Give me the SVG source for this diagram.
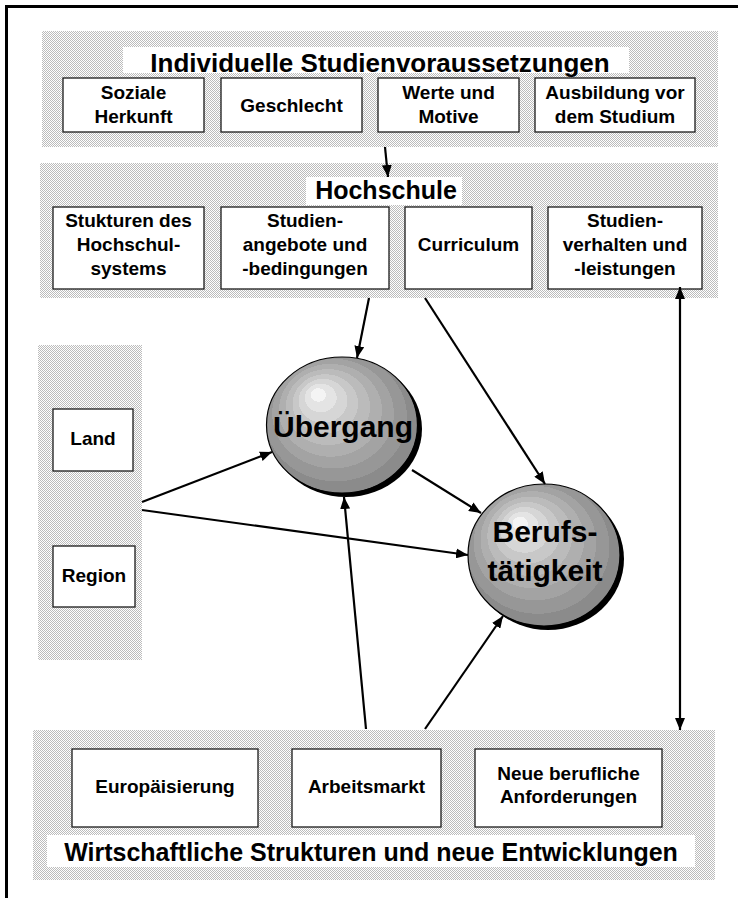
<svg xmlns="http://www.w3.org/2000/svg" width="738" height="898" viewBox="0 0 738 898">
  <defs>
    <!-- fine dither used for the shaded group panels -->
    <pattern id="dither" width="2" height="2" patternUnits="userSpaceOnUse">
      <rect width="2" height="2" fill="#ffffff"/>
      <rect width="1" height="1" fill="#bcbcbc"/>
      <rect x="1" y="1" width="1" height="1" fill="#bcbcbc"/>
    </pattern>
    <!-- banded grey sphere shading -->
    <radialGradient id="sphere" cx="0.5" cy="0.5" r="0.62" fx="0.33" fy="0.26">
      <stop offset="0" stop-color="#f4f4f4"/>
      <stop offset="0.08" stop-color="#f4f4f4"/>
      <stop offset="0.08" stop-color="#e4e4e4"/>
      <stop offset="0.17" stop-color="#e4e4e4"/>
      <stop offset="0.17" stop-color="#d6d6d6"/>
      <stop offset="0.26" stop-color="#d6d6d6"/>
      <stop offset="0.26" stop-color="#c8c8c8"/>
      <stop offset="0.35" stop-color="#c8c8c8"/>
      <stop offset="0.35" stop-color="#bbbbbb"/>
      <stop offset="0.45" stop-color="#bbbbbb"/>
      <stop offset="0.45" stop-color="#afafaf"/>
      <stop offset="0.55" stop-color="#afafaf"/>
      <stop offset="0.55" stop-color="#a3a3a3"/>
      <stop offset="0.65" stop-color="#a3a3a3"/>
      <stop offset="0.65" stop-color="#979797"/>
      <stop offset="0.76" stop-color="#979797"/>
      <stop offset="0.76" stop-color="#8b8b8b"/>
      <stop offset="0.88" stop-color="#8b8b8b"/>
      <stop offset="0.88" stop-color="#808080"/>
      <stop offset="1" stop-color="#808080"/>
    </radialGradient>
    <marker id="head" viewBox="0 0 12 10" refX="12" refY="5" markerWidth="12" markerHeight="10" markerUnits="userSpaceOnUse" orient="auto-start-reverse">
      <path d="M0,0 L12,5 L0,10 z" fill="#000"/>
    </marker>
    <style>
      .panel { fill: url(#dither); }
      .cap { fill: #ffffff; }
      .box { fill: #ffffff; stroke: #1a1a1a; stroke-width: 1.3; }
      .t { font-family: "Liberation Sans", Arial, sans-serif; font-weight: bold; fill: #000; text-anchor: middle; }
      .lbl { font-size: 19px; }
      .title { font-size: 25px; }
      .big { font-size: 30px; }
      .ball { fill: url(#sphere); stroke: #000; stroke-width: 1.2; }
      .shade { fill: #000; }
      .conn line { stroke: #000; stroke-width: 2.2; marker-end: url(#head); }
    </style>
  </defs>

  <rect width="738" height="898" fill="#ffffff"/>
  <!-- page frame (open to the right and bottom) -->
  <path d="M738,6.5 H6.5 V898" fill="none" stroke="#000" stroke-width="3"/>

  <!-- shaded panels -->
  <rect class="panel" x="42" y="31" width="676" height="116"/>
  <rect class="panel" x="40" y="163" width="678" height="135"/>
  <rect class="panel" x="38" y="345" width="104" height="315"/>
  <rect class="panel" x="33" y="730" width="682" height="150"/>

  <g id="individuelle">
    <rect class="cap" x="123" y="47" width="506" height="26"/>
    <text class="t title" x="380" y="72" style="font-size:26px">Individuelle Studienvoraussetzungen</text>
  </g>
  <g id="soziale-herkunft">
    <rect class="box" x="63" y="78" width="141" height="54"/>
    <text class="t lbl" x="133.5" y="99">Soziale</text>
    <text class="t lbl" x="133.5" y="123">Herkunft</text>
  </g>
  <g id="geschlecht">
    <rect class="box" x="221" y="78" width="141" height="54"/>
    <text class="t lbl" x="291.5" y="112">Geschlecht</text>
  </g>
  <g id="werte-motive">
    <rect class="box" x="378" y="78" width="141" height="54"/>
    <text class="t lbl" x="448.5" y="99">Werte und</text>
    <text class="t lbl" x="448.5" y="123">Motive</text>
  </g>
  <g id="ausbildung">
    <rect class="box" x="535" y="78" width="160" height="54"/>
    <text class="t lbl" x="615" y="99">Ausbildung vor</text>
    <text class="t lbl" x="615" y="123">dem Studium</text>
  </g>

  <g id="hochschule">
    <rect class="cap" x="306" y="177" width="156" height="28"/>
    <text class="t title" x="386" y="199">Hochschule</text>
  </g>
  <g id="strukturen">
    <rect class="box" x="53" y="207" width="151" height="82"/>
    <text class="t lbl" x="128.5" y="227">Stukturen des</text>
    <text class="t lbl" x="128.5" y="251">Hochschul-</text>
    <text class="t lbl" x="128.5" y="275">systems</text>
  </g>
  <g id="studienangebote">
    <rect class="box" x="221" y="207" width="168" height="82"/>
    <text class="t lbl" x="305" y="227">Studien-</text>
    <text class="t lbl" x="305" y="251">angebote und</text>
    <text class="t lbl" x="305" y="275">-bedingungen</text>
  </g>
  <g id="curriculum">
    <rect class="box" x="405" y="207" width="127" height="82"/>
    <text class="t lbl" x="468.5" y="251">Curriculum</text>
  </g>
  <g id="studienverhalten">
    <rect class="box" x="548" y="207" width="154" height="82"/>
    <text class="t lbl" x="625" y="227">Studien-</text>
    <text class="t lbl" x="625" y="251">verhalten und</text>
    <text class="t lbl" x="625" y="275">-leistungen</text>
  </g>

  <g id="land">
    <rect class="box" x="53" y="409" width="80" height="62"/>
    <text class="t lbl" x="93" y="445">Land</text>
  </g>
  <g id="region">
    <rect class="box" x="53" y="546" width="82" height="61"/>
    <text class="t lbl" x="94" y="582">Region</text>
  </g>

  <g id="uebergang">
    <ellipse class="shade" cx="346" cy="429" rx="76" ry="68"/>
    <ellipse class="ball" cx="342" cy="425" rx="75.5" ry="68"/>
    <text class="t big" x="343" y="437">Übergang</text>
  </g>
  <g id="berufstaetigkeit">
    <ellipse class="shade" cx="548" cy="559" rx="76" ry="71"/>
    <ellipse class="ball" cx="544" cy="555" rx="76" ry="71"/>
    <text class="t big" x="545" y="542">Berufs-</text>
    <text class="t big" x="545" y="581">tätigkeit</text>
  </g>

  <g id="wirtschaft">
    <rect class="cap" x="47" y="835" width="648" height="32"/>
    <text class="t title" x="371" y="861">Wirtschaftliche Strukturen und neue Entwicklungen</text>
  </g>
  <g id="europaeisierung">
    <rect class="box" x="72" y="749" width="186" height="78"/>
    <text class="t lbl" x="165" y="793">Europäisierung</text>
  </g>
  <g id="arbeitsmarkt">
    <rect class="box" x="292" y="749" width="149" height="78"/>
    <text class="t lbl" x="366.5" y="793">Arbeitsmarkt</text>
  </g>
  <g id="anforderungen">
    <rect class="box" x="475" y="749" width="187" height="78"/>
    <text class="t lbl" x="568.5" y="780">Neue berufliche</text>
    <text class="t lbl" x="568.5" y="803">Anforderungen</text>
  </g>

  <g id="connectors" class="conn">
    <line x1="385" y1="147" x2="388" y2="177"/>
    <line x1="369" y1="298" x2="357" y2="358"/>
    <line x1="425" y1="298" x2="545" y2="484"/>
    <line x1="142" y1="502" x2="272" y2="452"/>
    <line x1="142" y1="510" x2="468" y2="555"/>
    <line x1="412" y1="470" x2="481" y2="513"/>
    <line x1="366" y1="729" x2="344" y2="497"/>
    <line x1="425" y1="729" x2="503" y2="616"/>
    <line x1="680" y1="287" x2="680" y2="730" style="marker-start:url(#head)"/>
  </g>
</svg>
